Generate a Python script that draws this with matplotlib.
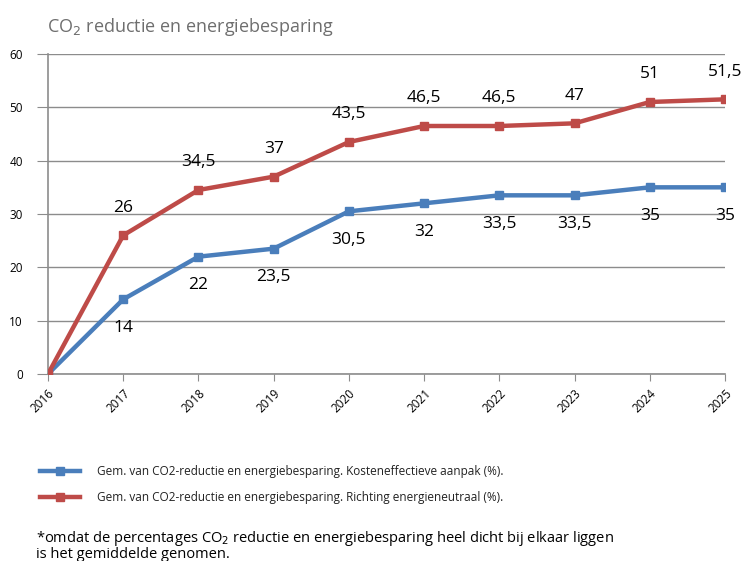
import matplotlib
matplotlib.use("Agg")
import matplotlib.pyplot as plt
from matplotlib.lines import Line2D

years = ["2016", "2017", "2018", "2019", "2020", "2021", "2022", "2023", "2024", "2025"]
kosten = [0, 14, 22, 23.5, 30.5, 32, 33.5, 33.5, 35, 35]
neutraal = [0, 26, 34.5, 37, 43.5, 46.5, 46.5, 47, 51, 51.5]
yticks = [0, 10, 20, 30, 40, 50, 60]
label_kosten = "Gem. van CO2-reductie en energiebesparing. Kosteneffectieve aanpak (%)."
label_neutraal = "Gem. van CO2-reductie en energiebesparing. Richting energieneutraal (%)."

blue = "#4a7ebb"
red = "#be4b48"
grey = "#8c8c8c"

plt.rcParams['font.family'] = ['Open Sans', 'DejaVu Sans']

fig = plt.figure(figsize=(7.45, 5.61), dpi=100)
ax = fig.add_axes([48/745, 1-374/561, (725-48)/745, (374-54)/561])

x = list(range(len(years)))
ax.plot(x, kosten, color=blue, lw=3.2, marker='s', ms=5.5, zorder=3)
ax.plot(x, neutraal, color=red, lw=3.2, marker='s', ms=5.5, zorder=4)

def fmt(v):
    return f"{v:g}".replace(".", ",")

for i in range(1, len(x)):
    ax.annotate(fmt(kosten[i]), (x[i], kosten[i]), xytext=(0, -20.5), textcoords='offset points',
                ha='center', va='center', fontsize=12.5, color='black')
    ax.annotate(fmt(neutraal[i]), (x[i], neutraal[i]), xytext=(0, 20), textcoords='offset points',
                ha='center', va='center', fontsize=12.5, color='black')

ax.set_xlim(0, len(x) - 1)
ax.set_ylim(0, 60)
ax.set_yticks(yticks)
ax.set_yticklabels([str(t) for t in yticks], fontsize=8.5)
ax.set_xticks(x)
ax.set_xticklabels(years, rotation=45, ha='right', rotation_mode='anchor', fontsize=8.5)
ax.yaxis.grid(True, color=grey, lw=1)
ax.set_axisbelow(True)
for s in ['top', 'right']:
    ax.spines[s].set_visible(False)
ax.spines['left'].set_color(grey)
ax.spines['bottom'].set_color(grey)
ax.spines['left'].set_linewidth(1.2)
ax.spines['bottom'].set_linewidth(1.2)
ax.tick_params(axis='y', length=8, color=grey, pad=10)
ax.tick_params(axis='x', length=5, color=grey, pad=4)

fig.text(47/745, 1-27/561, "CO$_2$ reductie en energiebesparing", fontsize=13, color='#6e6e6e',
         va='center', ha='left')

for yy, col, lab in [(471, blue, label_kosten), (497, red, label_neutraal)]:
    fy = 1 - yy/561
    fig.add_artist(Line2D([40/745, 80/745], [fy, fy], color=col, lw=3.2,
                          transform=fig.transFigure))
    fig.add_artist(Line2D([60/745], [fy], color=col, marker='s', ms=5.5,
                          transform=fig.transFigure))
    fig.text(97/745, fy, lab, fontsize=8.5, va='center', ha='left', color='#222222',
             family=['Liberation Sans Narrow', 'Open Sans', 'DejaVu Sans'])

fig.text(36/745, 1-538/561, "*omdat de percentages CO$_2$ reductie en energiebesparing heel dicht bij elkaar liggen",
         fontsize=10.5, va='center', ha='left', color='black')
fig.text(36/745, 1-554/561, "is het gemiddelde genomen.",
         fontsize=10.5, va='center', ha='left', color='black')

fig.savefig("out.png", dpi=100)
